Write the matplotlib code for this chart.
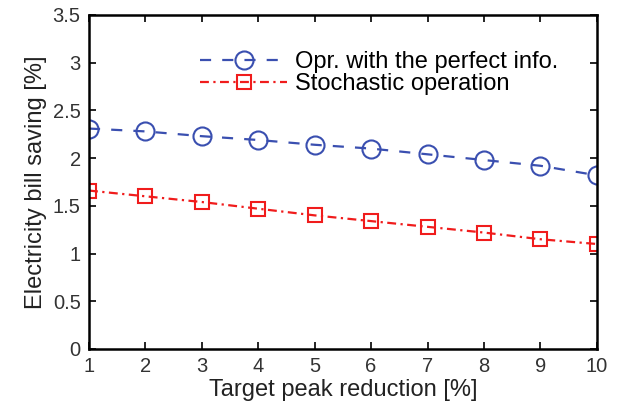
import matplotlib.pyplot as plt

plt.rcParams['font.family'] = ['Liberation Sans', 'DejaVu Sans']

reduction = [1, 2, 3, 4, 5, 6, 7, 8, 9, 10]
perfect_info = [2.31, 2.28, 2.23, 2.19, 2.14, 2.10, 2.04, 1.98, 1.92, 1.82]
stochastic = [1.66, 1.60, 1.54, 1.47, 1.40, 1.34, 1.28, 1.22, 1.15, 1.10]

fig = plt.figure(figsize=(6.21, 4.12), dpi=100)
ax = fig.add_axes([0.1433, 0.153, 0.8177, 0.8106])

ax.plot(reduction, perfect_info, linestyle=(0, (5, 5)), color='#3a4fb0', lw=1.6,
        marker='o', markersize=13, markerfacecolor='none', markeredgewidth=1.5,
        label='Opr. with the perfect info.')
ax.plot(reduction, stochastic, linestyle=(0, (4, 2, 1, 2)), color='#f01c1c', lw=1.6,
        marker='s', markersize=10, markerfacecolor='none', markeredgewidth=1.5,
        label='Stochastic operation')

ax.set_xlim(1, 10)
ax.set_ylim(0, 3.5)
ax.set_xticks(reduction)
ax.set_yticks([0, 0.5, 1, 1.5, 2, 2.5, 3, 3.5])
ax.set_yticklabels(['0', '0.5', '1', '1.5', '2', '2.5', '3', '3.5'])
ax.tick_params(direction='in', top=True, right=True, labelsize=14.5, length=5, width=1.2,
               labelcolor='#333333', pad=6)
for s in ax.spines.values():
    s.set_linewidth(1.8)

ax.set_xlabel('Target peak reduction [%]', fontsize=17, color='#222222', labelpad=2)
ax.set_ylabel('Electricity bill saving [%]', fontsize=17, color='#222222', labelpad=4)

ax.legend(loc='upper right', frameon=False, fontsize=17, handlelength=3.7,
          borderaxespad=0.5, labelspacing=0.0, handletextpad=0.3,
          bbox_to_anchor=(0.965, 0.955))

fig.savefig('out.png', dpi=100)
